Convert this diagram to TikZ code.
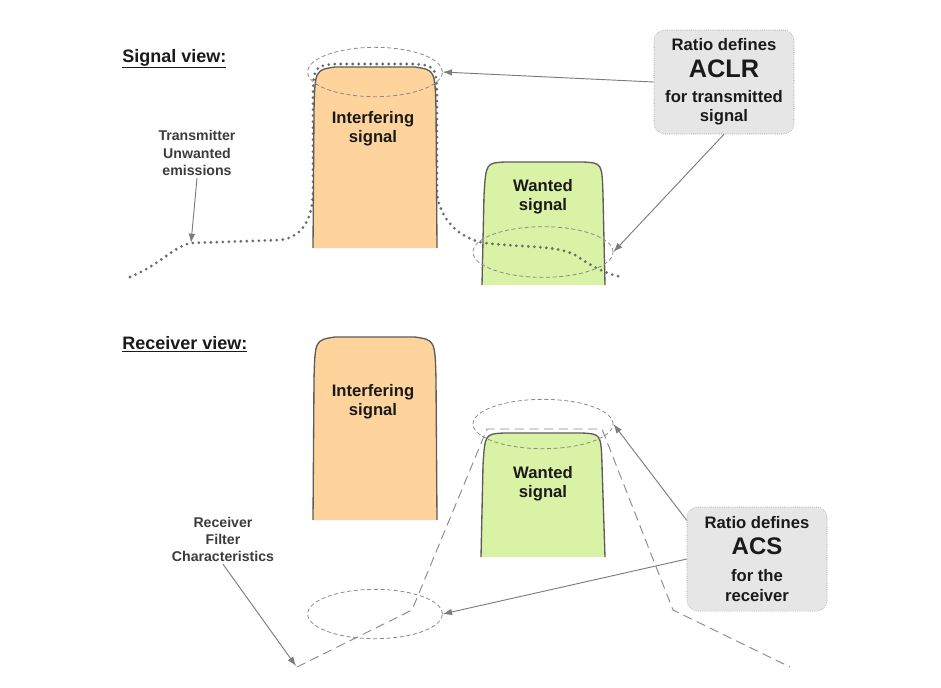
\documentclass[tikz,border=0pt]{standalone}
\usepackage{fontspec}
\setmainfont{Liberation Sans}
\usepackage{tikz}
\usetikzlibrary{arrows.meta,positioning,shapes.geometric}
\definecolor{ink}{HTML}{1A1A1A}
\definecolor{edge}{HTML}{5C5C5C}
\definecolor{ringgray}{HTML}{8A8A8A}
\definecolor{interf}{HTML}{FFD49C}
\definecolor{wanted}{HTML}{D9F2A5}
\definecolor{cardbg}{HTML}{E6E6E6}
\tikzset{
  heading/.style={
    anchor=base west, inner sep=0pt, text=ink,
    font=\bfseries\fontsize{13.5}{16}\selectfont
  },
  siglabel/.style={
    align=center, inner sep=0pt, text=ink,
    font=\bfseries\fontsize{12.5}{14}\selectfont
  },
  smallnote/.style={
    align=center, inner sep=2pt, text=ink!85,
    font=\bfseries\fontsize{10.6}{12.8}\selectfont
  },
  ratiocard/.style={
    draw=ringgray, densely dotted, fill=cardbg, rounded corners=8pt,
    align=center, inner sep=0pt, text=ink,
    minimum width=105pt, minimum height=78pt,
    font=\bfseries\fontsize{12.5}{14}\selectfont
  },
  ring/.style={
    ellipse, draw=ringgray, line width=0.6pt, dash pattern=on 3pt off 2pt,
    inner sep=0pt, minimum width=101pt, minimum height=37pt
  },
  sigedge/.style={draw=edge, line width=1pt},
  emission/.style={draw=edge!90, line width=2.3pt, line cap=round,
    dash pattern=on 0pt off 4.5pt},
  filterline/.style={draw=ringgray, line width=0.7pt, dash pattern=on 7pt off 4pt},
  pointer/.style={draw=ringgray!90!black, line width=0.7pt, -{Latex[length=7pt,width=5pt]}}
}
\begin{document}
\begin{tikzpicture}[x=0.75pt,y=-0.75pt]
  \useasboundingbox (0,0) rectangle (941,687);

  % --- signal view ---
  \node[heading] (sigview) at (122,62) {\underline{Signal view:}};
  \path[fill=wanted,sigedge] (482,285) -- (484,195) .. controls (486,163) .. (505,162)
    -- (583,162) .. controls (602,163) .. (603,195) -- (605,285);
  \path[emission] (130,277) .. controls (160,265) and (175,245) .. (192,243)
    -- (280,240) .. controls (305,237) and (312,215) .. (313,195)
    -- (313,110) .. controls (313,66) .. (335,64) -- (415,64)
    .. controls (437,66) .. (437,110) -- (437,195)
    .. controls (442,225) and (465,240) .. (485,243)
    .. controls (530,248) and (555,245) .. (575,255)
    .. controls (590,265) and (605,274) .. (622,277);
  \path[fill=interf,sigedge] (313,248) -- (314,110) .. controls (315,70) .. (335,67)
    -- (415,67) .. controls (435,70) .. (436,110) -- (437,248);
  \node[siglabel] (interfA) at (373,129) {Interfering\\signal};
  \node[siglabel] (wantedA) at (543,197) {Wanted\\signal};
  \node[ring] (ringIA) at (375,72) {};
  \node[ring,minimum width=105pt,minimum height=38pt] (ringWA) at (543,252) {};
  \node[ratiocard] (aclr) at (724,82) {Ratio defines\\[6pt]
    {\fontsize{19}{22}\selectfont ACLR}\\[5pt]for transmitted\\signal};
  \node[smallnote] (txnote) at (197,153) {Transmitter\\Unwanted\\emissions};
  \coordinate (emit) at (191,243);
  \draw[pointer] (aclr.west) -- (ringIA.east);
  \draw[pointer] (aclr.south) -- (ringWA.east);
  \draw[pointer] (txnote.south) -- (emit);

  % --- receiver view ---
  \node[heading] (rxview) at (122,349) {\underline{Receiver view:}};
  \path[fill=interf,sigedge] (313,520) -- (314,380) .. controls (315,340) .. (335,337)
    -- (415,337) .. controls (435,340) .. (436,380) -- (437,520);
  \path[fill=wanted,sigedge] (481,557) -- (483,465) .. controls (485,434) .. (504,433)
    -- (582,433) .. controls (601,434) .. (602,465) -- (605,557);
  \node[siglabel] (interfB) at (373,402) {Interfering\\signal};
  \node[siglabel] (wantedB) at (543,484) {Wanted\\signal};
  \path[filterline] (297,667) -- (412,610) -- (487,429) -- (602,429)
    -- (673,610) -- (790,667);
  \node[ring,minimum width=105pt] (ringWB) at (543,424) {};
  \node[ring] (ringFB) at (375,614) {};
  \node[ratiocard] (acs) at (757,559) {Ratio defines\\[6pt]
    {\fontsize{18}{22}\selectfont ACS}\\[6pt]for the\\[1pt]receiver};
  \node[smallnote] (rxnote) at (223,539) {Receiver\\Filter\\Characteristics};
  \coordinate (filterfoot) at (296,666);
  \draw[pointer] ([yshift=29pt]acs.west) -- (ringWB.east);
  \draw[pointer] (acs.west) -- (ringFB.east);
  \draw[pointer] (rxnote.south) -- (filterfoot);
\end{tikzpicture}
\end{document}
